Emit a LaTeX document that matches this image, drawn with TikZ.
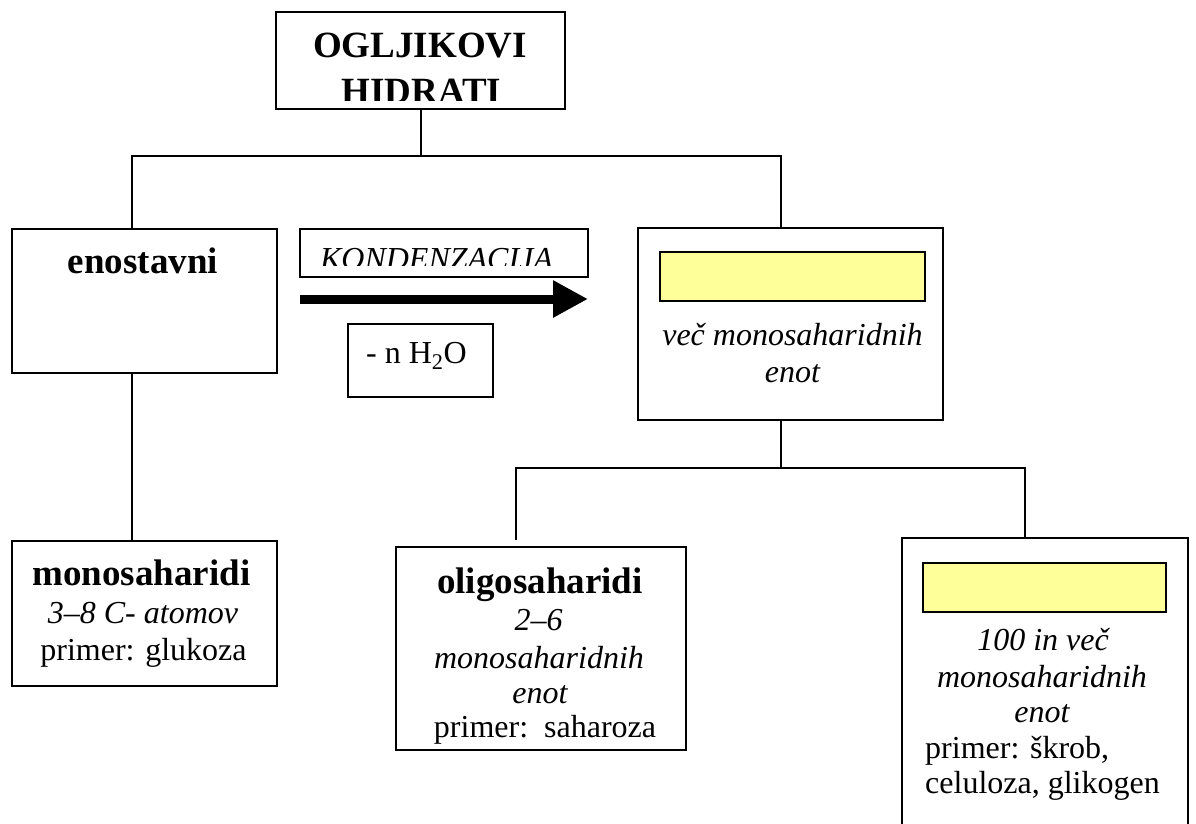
\documentclass[tikz,border=0pt]{standalone}
\usepackage{fontspec}
\setmainfont{Liberation Serif}
\usepackage{tikz}
\usetikzlibrary{arrows.meta,positioning,calc}

\definecolor{rumena}{RGB}{255,255,153}

\tikzset{
  okvir/.style={draw, line width=2pt, inner sep=0pt},
  rumeni/.style={draw, line width=1.5pt, fill=rumena, inner sep=0pt},
  vez/.style={line width=2pt},
  glava/.style={anchor=base, inner sep=0pt, font=\fontsize{37}{46}\selectfont\bfseries},
  txt/.style={anchor=base, inner sep=0pt, font=\fontsize{32}{36}\selectfont},
  ital/.style={anchor=base, inner sep=0pt, font=\fontsize{32}{36}\selectfont\itshape}
}

\begin{document}
\begin{tikzpicture}[x=1pt,y=-1pt]
  \useasboundingbox (0,0) rectangle (1196,823);

  % Boxes
  \node[okvir,minimum width=289pt,minimum height=97pt] (top) at (420.5,60.5) {};
  \node[okvir,minimum width=265pt,minimum height=144pt] (enost) at (144.5,301) {};
  \node[okvir,minimum width=265pt,minimum height=145pt] (mono) at (144.5,613.5) {};
  \node[okvir,minimum width=288pt,minimum height=48pt] (kond) at (444,253) {};
  \node[okvir,minimum width=145pt,minimum height=73pt] (voda) at (420.5,360.5) {};
  \node[okvir,minimum width=305pt,minimum height=192pt] (vec) at (790.5,324) {};
  \node[rumeni,minimum width=265pt,minimum height=49pt] (vecY) at (792.5,276.5) {};
  \node[okvir,minimum width=290pt,minimum height=203pt] (oligo) at (541,648.5) {};
  \node[okvir,minimum width=286pt,minimum height=300pt] (poli) at (1045,688) {};
  \node[rumeni,minimum width=243pt,minimum height=49pt] (poliY) at (1044.5,587.5) {};

  % Texts
  \begin{scope}
    \clip (276,12) rectangle (565,100);
    \node[glava] (t1) at (420,57) {OGLJIKOVI};
    \node[glava] (t2) at (421.5,103) {HIDRATI};
  \end{scope}
  \node[glava] (e1) at (143,273) {enostavni};

  \node[glava] (m1) at (141.5,585) {monosaharidi};
  \node[ital] (m2) at (143,623) {3–8 C- atomov};
  \node[txt] (m3) at (143.5,660) {primer: glukoza};

  \begin{scope}
    \clip (300,229) rectangle (588,265);
    \node[ital] (k1) at (436.5,269) {KONDENZACIJA};
  \end{scope}
  \node[txt] (h1) at (416.5,363) {- n H\textsubscript{2}O};

  \node[ital] (v1) at (792.5,345) {več monosaharidnih};
  \node[ital] (v2) at (792.5,382) {enot};

  \node[glava] (o1) at (540,593) {oligosaharidi};
  \node[ital] (o2) at (538.5,630) {2–6};
  \node[ital] (o3) at (539,668) {monosaharidnih};
  \node[ital] (o4) at (540,703) {enot};
  \node[txt] (o5) at (545,737) {primer:\ \ saharoza};

  \node[ital] (p1) at (1043,650) {100 in več};
  \node[ital] (p2) at (1042,687) {monosaharidnih};
  \node[ital] (p3) at (1042,722) {enot};
  \node[txt,anchor=base west] (p4) at (925,758) {primer: škrob,};
  \node[txt,anchor=base west] (p5) at (925,793) {celuloza, glikogen};

  % Arrow
  \coordinate (aS) at (300,299);
  \coordinate (aE) at (588,299);
  \draw[line width=9pt,-{Triangle[length=35pt,width=35pt]}] (aS) -- (aE);

  % Connections
  \coordinate (gL) at (132,156);
  \coordinate (gR) at (781,156);
  \draw[vez] (top.south) -- (top.south |- gL);
  \draw[vez] (enost.north -| gL) -- (gL) -- (gR) -- (vec.north -| gR);
  \draw[vez] (enost.south -| gL) -- (mono.north -| gL);

  \coordinate (dL) at (516,468);
  \coordinate (dR) at (1025,468);
  \coordinate (dLe) at (516,540);
  \draw[vez] (vec.south -| gR) -- (gR |- dL);
  \draw[vez] (dLe) -- (dL) -- (dR) -- (poli.north -| dR);
\end{tikzpicture}
\end{document}
